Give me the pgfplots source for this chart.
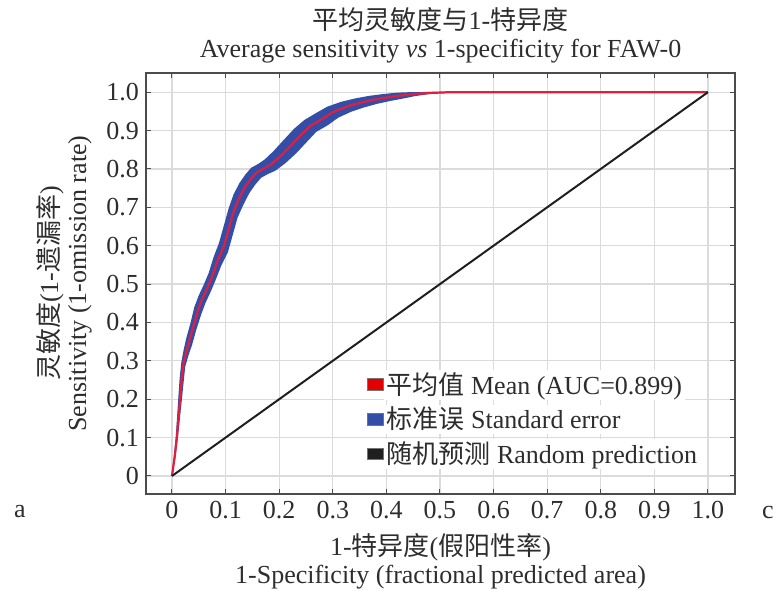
\documentclass[border=0pt]{standalone}
\usepackage{fontspec}
\setmainfont{Liberation Serif}
\newfontfamily\cjk{Noto Sans CJK SC}
\usepackage{pgfplots}
\pgfplotsset{compat=1.18}
\usepgfplotslibrary{fillbetween}

\definecolor{meanred}{RGB}{222,32,62}
\definecolor{sebl}{RGB}{52,78,168}
\definecolor{txt}{RGB}{45,45,45}
\newcommand{\fnt}{\fontsize{13}{14}\selectfont}

% mean ROC curve
\pgfplotstableread{
x y
0 0
0.005 0.05
0.009 0.10
0.012 0.15
0.015 0.20
0.018 0.25
0.021 0.29
0.026 0.32
0.032 0.35
0.040 0.39
0.048 0.43
0.056 0.46
0.066 0.49
0.075 0.52
0.085 0.56
0.096 0.595
0.105 0.64
0.114 0.685
0.124 0.72
0.135 0.75
0.146 0.772
0.157 0.790
0.170 0.800
0.183 0.810
0.200 0.830
0.220 0.858
0.240 0.888
0.258 0.912
0.280 0.930
0.300 0.948
0.325 0.962
0.350 0.972
0.375 0.980
0.400 0.986
0.425 0.991
0.450 0.995
0.480 0.998
0.520 1.0
1.0 1.0
}\meandata

% standard error band, upper edge
\pgfplotstableread{
x y
0 0
0.0036 0.0519
0.0071 0.1026
0.0095 0.1535
0.0118 0.2043
0.0143 0.2552
0.0173 0.2952
0.0214 0.3265
0.0264 0.3578
0.0344 0.3978
0.0415 0.4391
0.0495 0.4691
0.0595 0.4991
0.0685 0.5291
0.0776 0.5704
0.0876 0.6067
0.0966 0.6517
0.1056 0.6967
0.1147 0.733
0.1257 0.763
0.1367 0.785
0.1477 0.803
0.1607 0.813
0.1727 0.8243
0.1888 0.8456
0.2079 0.8748
0.2279 0.9048
0.2469 0.9275
0.2688 0.9456
0.2897 0.9623
0.3157 0.975
0.3416 0.9837
0.3675 0.9904
0.3935 0.9951
0.4194 0.9988
0.4463 1.0002
0.4781 1.0006
0.519 1.0013
1.0 1.0
}\upperdata

% standard error band, lower edge
\pgfplotstableread{
x y
0 0
0.0064 0.0481
0.0109 0.0974
0.0145 0.1465
0.0182 0.1957
0.0217 0.2448
0.0247 0.2848
0.0306 0.3135
0.0376 0.3422
0.0456 0.3822
0.0545 0.4209
0.0625 0.4509
0.0725 0.4809
0.0815 0.5109
0.0924 0.5496
0.1044 0.5833
0.1134 0.6283
0.1224 0.6733
0.1333 0.707
0.1443 0.737
0.1553 0.759
0.1663 0.777
0.1793 0.787
0.1933 0.7957
0.2112 0.8144
0.2321 0.8412
0.2521 0.8712
0.2691 0.8965
0.2912 0.9144
0.3103 0.9337
0.3343 0.949
0.3584 0.9603
0.3825 0.9696
0.4065 0.9769
0.4306 0.9832
0.4537 0.9898
0.4819 0.9954
0.521 0.9987
1.0 1.0
}\lowerdata

\begin{document}
\begin{tikzpicture}[font=\fnt, text=txt]
\begin{axis}[name=ax, scale only axis, width=294.5pt, height=210.5pt,
  xmin=-0.0485, xmax=1.0505, ymin=-0.047, ymax=1.05,
  xtick={0,0.1,...,1.0}, ytick={0,0.1,...,1.0},
  xticklabels={0,0.1,0.2,0.3,0.4,0.5,0.6,0.7,0.8,0.9,1.0},
  yticklabels={0,0.1,0.2,0.3,0.4,0.5,0.6,0.7,0.8,0.9,1.0},
  tick align=inside, major tick length=2.5pt,
  tick style={black!70, line width=0.5pt},
  axis line style={black!70, line width=0.7pt},
  grid=major, major grid style={black!14, line width=0.6pt},
  tick label style={font=\fnt, text=txt},
  label style={font=\fnt, text=txt, align=center},
  xlabel style={yshift=-0.5pt},
  ylabel style={yshift=0.5pt},
  title style={font=\fnt, text=txt, align=center, yshift=-4.5pt},
  title={{\cjk 平均灵敏度与}1-{\cjk 特异度}\\Average sensitivity \textit{vs} 1-specificity for FAW-0},
  xlabel={1-{\cjk 特异度}({\cjk 假阳性率})\\1-Specificity (fractional predicted area)},
  ylabel={{\cjk 灵敏度}(1-{\cjk 遗漏率})\\Sensitivity (1-omission rate)},
  legend style={at={(rel axis cs:0.365,0.305)}, anchor=north west, draw=none, fill=none,
    font=\fnt, text=txt, row sep=2.5pt, nodes={fill=white, inner sep=1.2pt}},
  legend cell align=left,
  legend image code/.code={\draw[#1, draw=black!55, line width=0.4pt] (0pt,-2.8pt) rectangle (8pt,3pt);},
]
\addplot[name path=U, draw=none, forget plot] table {\upperdata};
\addplot[name path=L, draw=none, forget plot] table {\lowerdata};
\addplot[sebl, fill=sebl, draw=none, forget plot] fill between[of=U and L];
\addplot[meanred, line width=1.1pt, forget plot] table {\meandata};
\addplot[black!88, line width=1pt, forget plot] coordinates {(0,0) (1,1)};
\addlegendimage{fill=red!90!black}
\addlegendentry{{\cjk 平均值} Mean (AUC=0.899)}
\addlegendimage{fill=sebl}
\addlegendentry{{\cjk 标准误} Standard error}
\addlegendimage{fill=black!88}
\addlegendentry{{\cjk 随机预测} Random prediction}
\end{axis}
\node at ([shift={(-63pt,-9pt)}]ax.south west) {a};
\node at ([shift={(16.5pt,-9pt)}]ax.south east) {c};
\pgfresetboundingbox
\path ([shift={(-73pt,-48pt)}]ax.south west) rectangle ([shift={(22pt,36.5pt)}]ax.north east);
\end{tikzpicture}
\end{document}
